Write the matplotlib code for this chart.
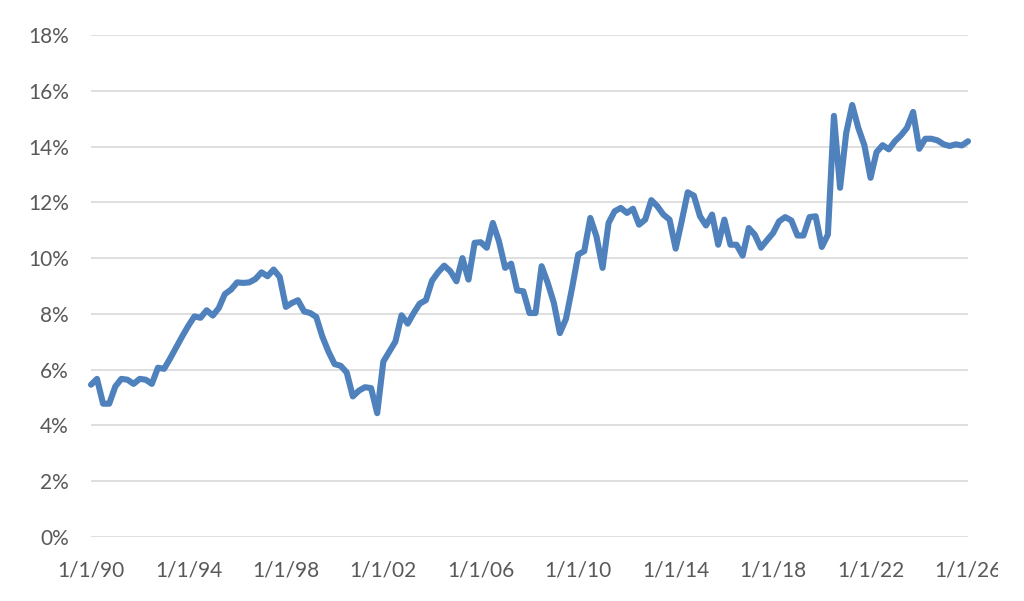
import matplotlib
matplotlib.use("Agg")
import matplotlib.pyplot as plt
from matplotlib.transforms import Bbox
import pandas as pd

# quarterly values (%), 1990Q1 .. 2026Q1
values = [
    5.46, 5.67, 4.78, 4.78, 5.40, 5.67, 5.64, 5.49, 5.67, 5.64,
    5.49, 6.07, 6.03, 6.40, 6.80, 7.20, 7.58, 7.91, 7.86, 8.13,
    7.94, 8.21, 8.71, 8.87, 9.13, 9.11, 9.13, 9.25, 9.49, 9.35,
    9.59, 9.32, 8.25, 8.39, 8.49, 8.09, 8.03, 7.89, 7.19, 6.65,
    6.20, 6.14, 5.90, 5.04, 5.25, 5.37, 5.34, 4.44, 6.29, 6.65,
    7.01, 7.95, 7.65, 8.03, 8.37, 8.49, 9.19, 9.49, 9.73, 9.53,
    9.17, 10.00, 9.23, 10.55, 10.57, 10.37, 11.26, 10.60, 9.65, 9.80,
    8.84, 8.81, 8.03, 8.03, 9.71, 9.11, 8.39, 7.31, 7.82, 8.93,
    10.13, 10.25, 11.44, 10.78, 9.65, 11.26, 11.68, 11.80, 11.62, 11.77,
    11.20, 11.38, 12.08, 11.86, 11.56, 11.38, 10.34, 11.32, 12.36, 12.24,
    11.50, 11.17, 11.56, 10.48, 11.38, 10.48, 10.48, 10.09, 11.08, 10.84,
    10.37, 10.64, 10.90, 11.32, 11.47, 11.35, 10.81, 10.81, 11.47, 11.50,
    10.40, 10.84, 15.10, 12.52, 14.49, 15.49, 14.67, 14.04, 12.88, 13.80,
    14.05, 13.90, 14.19, 14.40, 14.67, 15.24, 13.92, 14.28, 14.28, 14.22,
    14.08, 14.02, 14.08, 14.04, 14.19,
]
dates = pd.date_range(start="1990-01-01", periods=len(values), freq="QS")

tick_years = list(range(1990, 2027, 4))
tick_labels = ["1/1/%02d" % (y % 100) for y in tick_years]
y_ticks = list(range(0, 19, 2))

plt.rcParams["font.family"] = ["Lato", "DejaVu Sans"]
txt = "#595959"

fig = plt.figure(figsize=(10.24, 6.01), dpi=100)
ax = fig.add_axes([91 / 1024, 1 - 537 / 601, 877 / 1024, 502 / 601])

ax.plot(dates, [v / 100 for v in values], color="#4F81BD", lw=4.4,
        solid_joinstyle="round", solid_capstyle="round", zorder=3,
        clip_on=False)

ax.set_xlim(pd.Timestamp("1990-01-01"), pd.Timestamp("2026-01-01"))
ax.set_ylim(0, 0.18)
ax.set_xticks([pd.Timestamp(f"{y}-01-01") for y in tick_years])
ax.set_xticklabels(tick_labels)
ax.set_yticks([t / 100 for t in y_ticks])
ax.set_yticklabels([f"{t}%" for t in y_ticks])

ax.grid(axis="y", color="#D9D9D9", lw=1.2)
ax.set_axisbelow(True)
for s in ax.spines.values():
    s.set_visible(False)
ax.tick_params(axis="both", length=0, labelsize=15, labelcolor=txt)
ax.tick_params(axis="x", pad=17)
ax.tick_params(axis="y", pad=16)

# last x label is cut off at the chart area edge, like the original
clip = Bbox.from_extents(0, 0, 998, 601)
last = ax.get_xticklabels()[-1]
last.set_clip_box(clip)
last.set_clip_on(True)

fig.savefig("out.png", dpi=100)
